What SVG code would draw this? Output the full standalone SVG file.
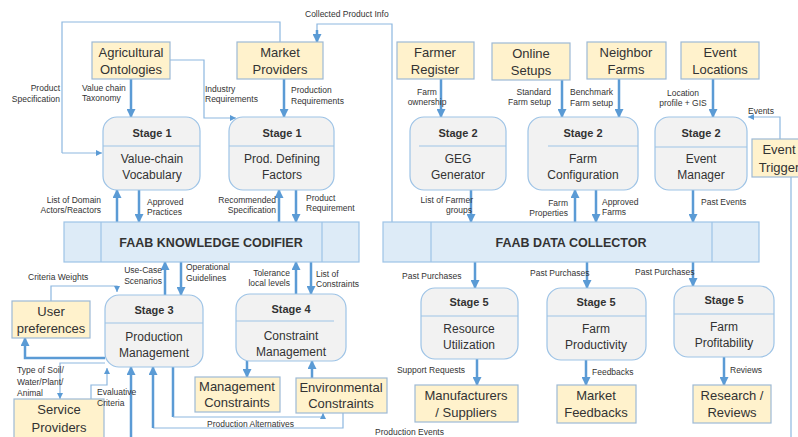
<svg xmlns="http://www.w3.org/2000/svg" width="798" height="437" viewBox="0 0 798 437">
<defs>
<marker id="ak" markerUnits="userSpaceOnUse" markerWidth="9" markerHeight="9" refX="8" refY="4.5" orient="auto"><path d="M0,0 L9,4.5 L0,9 z" fill="#5B9BD5"/></marker>
<marker id="at" markerUnits="userSpaceOnUse" markerWidth="6" markerHeight="6" refX="6" refY="3" orient="auto"><path d="M0,0 L6,3 L0,6 z" fill="#5B9BD5"/></marker>
<style>
text{font-family:"Liberation Sans",Arial,sans-serif;fill:#333}
.src{fill:#FFF2CC;stroke:#9DB9D5;stroke-width:1.2}
.stg{fill:#F2F2F2;stroke:#9DC3E6;stroke-width:1.2}
.bar{fill:#DDEBF7;stroke:#9DC3E6;stroke-width:1.2}
.dv{stroke:#9DC3E6;stroke-width:1.2;fill:none}
.n{font-size:13px;text-anchor:middle}
.t{font-size:11px;font-weight:bold;text-anchor:middle}
.b{font-size:12px;text-anchor:middle}
.bt{font-size:12.5px;font-weight:bold;text-anchor:middle}
.l{font-size:8.5px}
.e{text-anchor:end}
.m{text-anchor:middle}
.k{stroke:#5B9BD5;stroke-width:2.5;fill:none;marker-end:url(#ak)}
.kn{stroke:#5B9BD5;stroke-width:2.5;fill:none}
.th{stroke:#8DB7E0;stroke-width:1.2;fill:none;marker-end:url(#at)}
.tn{stroke:#8DB7E0;stroke-width:1.2;fill:none}
</style>
</defs>

<g id="connectors">
<path class="tn" d="M280,42 V22 H62 V153"/>
<path class="th" d="M62,153 H102"/>
<path class="th" d="M170,60 H204 V118 H236"/>
<path class="tn" d="M392,222 V24 H317 V30"/>
<path class="k" d="M317,30 V42"/>
<path class="th" d="M780,139 V117 H748"/>
<path class="tn" d="M791,177 V437"/>
<path class="th" d="M51,301 V286 H117 V292"/>
<path class="th" d="M105,363 H60 V399"/>
<path class="th" d="M91,399 V385 H107 V368"/>
<path class="tn" d="M343,412 V428 H153"/>
<path class="k" d="M153,428 V367"/>
<path class="k" d="M131,437 V367"/>
<path class="kn" d="M173,367 V417"/>
<path class="tn" d="M173,417 H323 V419"/>
<path class="th" d="M323,418 V413"/>
<path class="k" d="M131,79 V117"/>
<path class="k" d="M284,79 V117"/>
<path class="k" d="M117,222 V190"/>
<path class="k" d="M139,190 V222"/>
<path class="k" d="M279,222 V190"/>
<path class="k" d="M296,190 V222"/>
<path class="k" d="M165,295 V262"/>
<path class="k" d="M181,262 V295"/>
<path class="k" d="M296,294 V262"/>
<path class="k" d="M311,262 V294"/>
<path class="kn" d="M105,358 H25 V345"/>
<path class="k" d="M25,346 V338"/>
<path class="k" d="M247,361 V377"/>
<path class="k" d="M312,378 V361"/>
<path class="k" d="M441,79 V117"/>
<path class="k" d="M562,80 V117"/>
<path class="k" d="M619,79 V117"/>
<path class="k" d="M713,79 V117"/>
<path class="k" d="M471,190 V222"/>
<path class="k" d="M575,222 V190"/>
<path class="k" d="M596,190 V222"/>
<path class="k" d="M693,190 V222"/>
<path class="k" d="M475,262 V288"/>
<path class="k" d="M587,262 V288"/>
<path class="k" d="M693,262 V286"/>
<path class="k" d="M477,359 V385"/>
<path class="k" d="M586,360 V385"/>
<path class="k" d="M724,357 V385"/>
</g>

<g id="agricultural-ontologies"><rect class="src" x="92" y="42" width="78" height="37"/><text class="n" x="131" y="57">Agricultural</text><text class="n" x="131" y="74">Ontologies</text></g>
<g id="market-providers"><rect class="src" x="237" y="42" width="86" height="37"/><text class="n" x="280" y="57">Market</text><text class="n" x="280" y="74">Providers</text></g>
<g id="farmer-register"><rect class="src" x="397" y="42" width="77" height="37"/><text class="n" x="435" y="57">Farmer</text><text class="n" x="435" y="74">Register</text></g>
<g id="online-setups"><rect class="src" x="492" y="43" width="78" height="37"/><text class="n" x="531" y="58">Online</text><text class="n" x="531" y="75">Setups</text></g>
<g id="neighbor-farms"><rect class="src" x="587" y="42" width="79" height="37"/><text class="n" x="626" y="57">Neighbor</text><text class="n" x="626" y="74">Farms</text></g>
<g id="event-locations"><rect class="src" x="681" y="42" width="78" height="37"/><text class="n" x="720" y="57">Event</text><text class="n" x="720" y="74">Locations</text></g>
<g id="event-trigger"><rect class="src" x="752" y="139" width="60" height="38"/><text class="n" x="779" y="154">Event</text><text class="n" x="779" y="172">Trigger</text></g>

<g id="stage1-vocabulary"><rect class="stg" x="103" y="117" width="97" height="73" rx="14"/><line class="dv" x1="103" y1="146" x2="200" y2="146"/><text class="t" x="152" y="137">Stage 1</text><text class="b" x="152" y="163">Value-chain</text><text class="b" x="152" y="179">Vocabulary</text></g>
<g id="stage1-factors"><rect class="stg" x="229" y="117" width="105" height="73" rx="14"/><line class="dv" x1="229" y1="146" x2="334" y2="146"/><text class="t" x="282" y="137">Stage 1</text><text class="b" x="282" y="163">Prod. Defining</text><text class="b" x="282" y="179">Factors</text></g>
<g id="stage2-geg"><rect class="stg" x="410" y="117" width="96" height="73" rx="14"/><line class="dv" x1="419" y1="146" x2="506" y2="146"/><text class="t" x="458" y="137">Stage 2</text><text class="b" x="458" y="163">GEG</text><text class="b" x="458" y="179">Generator</text></g>
<g id="stage2-farm-config"><rect class="stg" x="528" y="117" width="110" height="73" rx="14"/><line class="dv" x1="548" y1="146" x2="638" y2="146"/><text class="t" x="583" y="137">Stage 2</text><text class="b" x="583" y="163">Farm</text><text class="b" x="583" y="179">Configuration</text></g>
<g id="stage2-event-manager"><rect class="stg" x="655" y="117" width="92" height="73" rx="14"/><line class="dv" x1="655" y1="147" x2="747" y2="147"/><text class="t" x="701" y="137">Stage 2</text><text class="b" x="701" y="163">Event</text><text class="b" x="701" y="179">Manager</text></g>

<g id="knowledge-codifier"><rect class="bar" x="64" y="222" width="295" height="40"/><line class="dv" x1="101" y1="222" x2="101" y2="262"/><line class="dv" x1="322" y1="222" x2="322" y2="262"/><text class="bt" x="211" y="247">FAAB KNOWLEDGE CODIFIER</text></g>
<g id="data-collector"><rect class="bar" x="383" y="222" width="376" height="40"/><line class="dv" x1="431" y1="222" x2="431" y2="262"/><line class="dv" x1="712" y1="222" x2="712" y2="262"/><text class="bt" x="571" y="247">FAAB DATA COLLECTOR</text></g>

<g id="stage3"><rect class="stg" x="105" y="295" width="98" height="72" rx="14"/><line class="dv" x1="105" y1="323" x2="203" y2="323"/><text class="t" x="154" y="314">Stage 3</text><text class="b" x="154" y="341">Production</text><text class="b" x="154" y="357">Management</text></g>
<g id="stage4"><rect class="stg" x="236" y="294" width="110" height="67" rx="14"/><line class="dv" x1="236" y1="321" x2="334" y2="321"/><text class="t" x="291" y="313">Stage 4</text><text class="b" x="291" y="340">Constraint</text><text class="b" x="291" y="356">Management</text></g>
<g id="user-preferences"><rect class="src" x="12" y="301" width="78" height="37"/><text class="n" x="51" y="316">User</text><text class="n" x="51" y="333">preferences</text></g>
<g id="service-providers"><rect class="src" x="14" y="399" width="90" height="45"/><text class="n" x="59" y="414">Service</text><text class="n" x="59" y="432">Providers</text></g>
<g id="management-constraints"><rect class="src" x="195" y="377" width="85" height="35"/><text class="n" x="237" y="391">Management</text><text class="n" x="237" y="407">Constraints</text></g>
<g id="environmental-constraints"><rect class="src" x="296" y="378" width="91" height="35"/><text class="n" x="341" y="392">Environmental</text><text class="n" x="341" y="408">Constraints</text></g>

<g id="stage5-resource"><rect class="stg" x="421" y="288" width="97" height="71" rx="14"/><line class="dv" x1="421" y1="316" x2="518" y2="316"/><text class="t" x="469" y="306">Stage 5</text><text class="b" x="469" y="333">Resource</text><text class="b" x="469" y="349">Utilization</text></g>
<g id="stage5-productivity"><rect class="stg" x="547" y="288" width="99" height="72" rx="14"/><line class="dv" x1="547" y1="316" x2="646" y2="316"/><text class="t" x="596" y="306">Stage 5</text><text class="b" x="596" y="333">Farm</text><text class="b" x="596" y="349">Productivity</text></g>
<g id="stage5-profitability"><rect class="stg" x="674" y="286" width="100" height="71" rx="14"/><line class="dv" x1="674" y1="314" x2="774" y2="314"/><text class="t" x="724" y="304">Stage 5</text><text class="b" x="724" y="331">Farm</text><text class="b" x="724" y="347">Profitability</text></g>
<g id="manufacturers-suppliers"><rect class="src" x="415" y="385" width="103" height="37"/><text class="n" x="466" y="400">Manufacturers</text><text class="n" x="466" y="417">/ Suppliers</text></g>
<g id="market-feedbacks"><rect class="src" x="557" y="385" width="79" height="38"/><text class="n" x="596" y="400">Market</text><text class="n" x="596" y="417">Feedbacks</text></g>
<g id="research-reviews"><rect class="src" x="693" y="385" width="78" height="38"/><text class="n" x="732" y="400">Research /</text><text class="n" x="732" y="417">Reviews</text></g>

<g id="labels">
<text class="l" x="305" y="17">Collected Product Info</text>
<text class="l e" x="60" y="91">Product</text>
<text class="l e" x="60" y="102">Specification</text>
<text class="l" x="82" y="91">Value chain</text>
<text class="l" x="82" y="101">Taxonomy</text>
<text class="l" x="205" y="92">Industry</text>
<text class="l" x="205" y="102">Requirements</text>
<text class="l" x="291" y="93">Production</text>
<text class="l" x="291" y="104">Requirements</text>
<text class="l e" x="101" y="203">List of Domain</text>
<text class="l e" x="101" y="213">Actors/Reactors</text>
<text class="l" x="147" y="205">Approved</text>
<text class="l" x="147" y="215">Practices</text>
<text class="l e" x="276" y="203">Recommended</text>
<text class="l e" x="276" y="213">Specification</text>
<text class="l" x="306" y="201">Product</text>
<text class="l" x="306" y="211">Requirement</text>
<text class="l" x="28" y="280">Criteria Weights</text>
<text class="l e" x="162" y="273">Use-Case</text>
<text class="l e" x="162" y="284">Scenarios</text>
<text class="l" x="186" y="270">Operational</text>
<text class="l" x="186" y="281">Guidelines</text>
<text class="l e" x="290" y="276">Tolerance</text>
<text class="l e" x="290" y="286">local levels</text>
<text class="l" x="316" y="277">List of</text>
<text class="l" x="316" y="287">Constraints</text>
<text class="l" x="17" y="373">Type of Soil/</text>
<text class="l" x="17" y="385">Water/Plant/</text>
<text class="l" x="17" y="396">Animal</text>
<text class="l" x="97" y="395">Evaluative</text>
<text class="l" x="97" y="406">Criteria</text>
<text class="l" x="207" y="427">Production Alternatives</text>
<text class="l" x="375" y="435">Production Events</text>
<text class="l m" x="427" y="95">Farm</text>
<text class="l m" x="427" y="105">ownership</text>
<text class="l e" x="551" y="95">Standard</text>
<text class="l e" x="551" y="105">Farm setup</text>
<text class="l" x="570" y="95">Benchmark</text>
<text class="l" x="570" y="106">Farm setup</text>
<text class="l m" x="683" y="96">Location</text>
<text class="l m" x="683" y="106">profile + GIS</text>
<text class="l" x="748" y="114">Events</text>
<text class="l e" x="473" y="203">List of Farmer</text>
<text class="l e" x="472" y="213">groups</text>
<text class="l e" x="568" y="206">Farm</text>
<text class="l e" x="568" y="216">Properties</text>
<text class="l" x="602" y="205">Approved</text>
<text class="l" x="602" y="215">Farms</text>
<text class="l" x="701" y="205">Past Events</text>
<text class="l" x="402" y="279">Past Purchases</text>
<text class="l" x="530" y="276">Past Purchases</text>
<text class="l" x="635" y="275">Past Purchases</text>
<text class="l e" x="465" y="373">Support Requests</text>
<text class="l" x="592" y="375">Feedbacks</text>
<text class="l" x="730" y="373">Reviews</text>
</g>
</svg>
